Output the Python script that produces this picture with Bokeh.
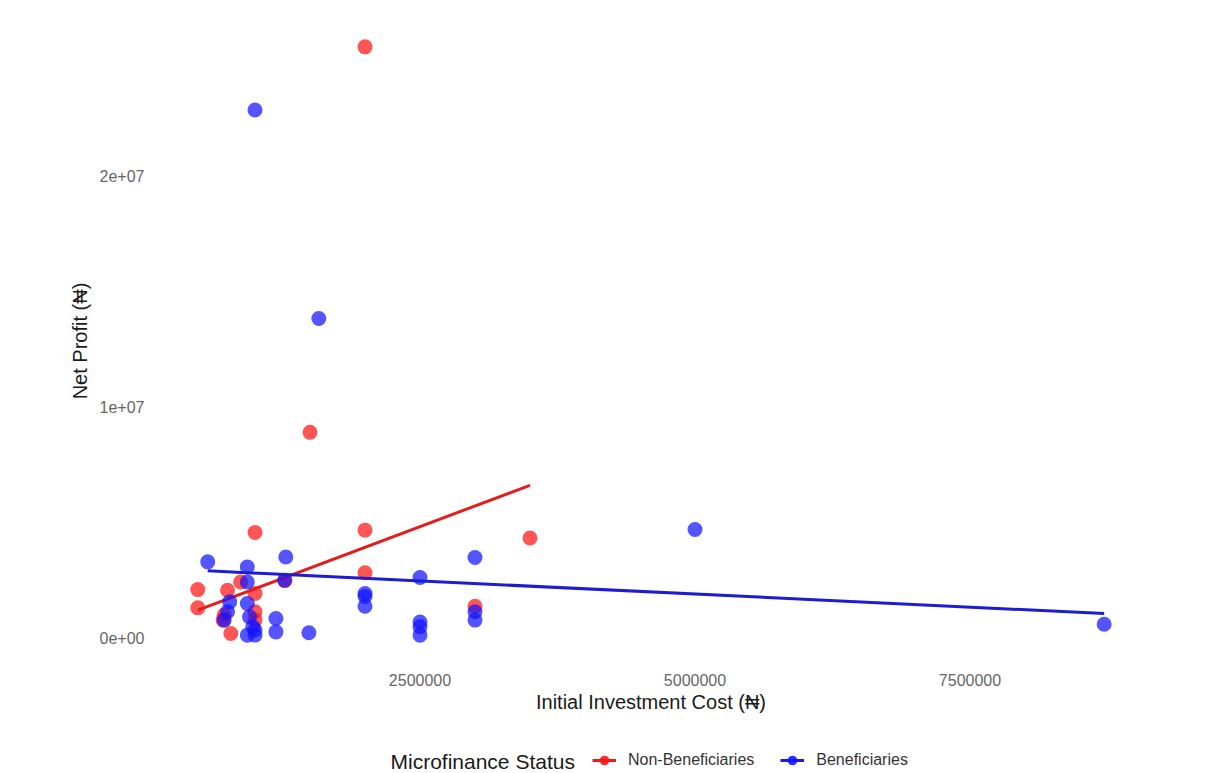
from bokeh.plotting import figure
from bokeh.layouts import column
from bokeh.models import Legend, LegendItem, Label, FixedTicker, Range1d
from bokeh.embed import file_html
from bokeh.resources import INLINE

# ---------------- data ----------------
group_labels = ["Non-Beneficiaries", "Beneficiaries"]
group_colors = ["#ff1414", "#1414ff"]
line_colors = ["#e01e1e", "#1c1cd2"]

# Non-Beneficiaries: initial investment cost vs net profit (Naira)
nb_cost = [2.0e6, 1.5e6, 1.0e6, 2.0e6, 3.5e6, 2.0e6, 0.48e6, 0.48e6, 0.75e6,
           0.87e6, 1.0e6, 3.0e6, 0.71e6, 0.78e6, 1.0e6, 1.0e6, 1.27e6, 0.72e6]
nb_profit = [25.57e6, 8.9e6, 4.57e6, 4.67e6, 4.33e6, 2.83e6, 2.10e6, 1.31e6, 2.07e6,
             2.43e6, 1.93e6, 1.38e6, 0.78e6, 0.20e6, 1.14e6, 0.78e6, 2.5e6, 1.0e6]

# Beneficiaries
b_cost = [1.0e6, 1.58e6, 5.0e6, 8.72e6, 0.57e6, 0.93e6, 0.93e6, 1.28e6, 1.27e6,
          0.77e6, 0.75e6, 0.72e6, 0.93e6, 0.95e6, 0.98e6, 0.93e6, 1.0e6, 1.19e6,
          1.19e6, 1.49e6, 2.0e6, 2.0e6, 2.0e6, 2.5e6, 2.5e6, 2.5e6, 2.5e6,
          3.0e6, 3.0e6, 3.0e6, 1.0e6]
b_profit = [22.84e6, 13.82e6, 4.7e6, 0.6e6, 3.30e6, 3.08e6, 2.43e6, 3.51e6, 2.5e6,
            1.57e6, 1.14e6, 0.78e6, 1.5e6, 0.92e6, 0.49e6, 0.13e6, 0.13e6, 0.85e6,
            0.27e6, 0.23e6, 1.93e6, 1.8e6, 1.38e6, 2.62e6, 0.7e6, 0.49e6, 0.13e6,
            3.49e6, 1.14e6, 0.78e6, 0.35e6]

# linear fits shown on the chart: [intercept, slope]
nb_fit = [0.352e6, 1.788]
b_fit = [3.04e6, -0.2265]

x_ticks = [2500000, 5000000, 7500000]
x_tick_labels = ["2500000", "5000000", "7500000"]
y_ticks = [0, 10000000, 20000000]
y_tick_labels = ["0e+00", "1e+07", "2e+07"]

x_title = "Initial Investment Cost (\u20a6)"
y_title = "Net Profit (\u20a6)"
legend_title = "Microfinance Status"

FONT = "Liberation Sans"
NAN = float("nan")

# ---------------- main figure ----------------
p = figure(width=1207, height=730,
           x_range=Range1d(0.068e6, 9.132e6), y_range=Range1d(-1.14e6, 26.84e6),
           output_backend="svg", toolbar_location=None,
           min_border_left=152, min_border_right=58,
           min_border_top=17, min_border_bottom=66)
p.outline_line_color = None
p.xgrid.visible = False
p.ygrid.visible = False
p.background_fill_color = "white"
p.border_fill_color = "white"

for ax in (p.xaxis[0], p.yaxis[0]):
    ax.axis_line_color = None
    ax.major_tick_line_color = None
    ax.minor_tick_line_color = None
    ax.major_tick_out = 0
    ax.major_tick_in = 0
    ax.minor_tick_out = 0
    ax.major_label_text_font = FONT
    ax.major_label_text_font_size = "16px"
    ax.major_label_text_color = "#666666"
    ax.axis_label_text_font = FONT
    ax.axis_label_text_font_size = "20px"
    ax.axis_label_text_font_style = "normal"
    ax.axis_label_text_color = "#1a1a1a"

p.xaxis.ticker = FixedTicker(ticks=x_ticks)
p.xaxis.major_label_overrides = dict(zip(x_ticks, x_tick_labels))
p.xaxis.axis_label = x_title
p.xaxis.major_label_standoff = 9
p.xaxis.axis_label_standoff = 2

p.yaxis.ticker = FixedTicker(ticks=y_ticks)
p.yaxis.major_label_overrides = dict(zip(y_ticks, y_tick_labels))
p.yaxis.axis_label = y_title
p.yaxis.major_label_standoff = 8
p.yaxis.axis_label_standoff = 6

groups = [(nb_cost, nb_profit, nb_fit), (b_cost, b_profit, b_fit)]
for (xs, ys, fit), col, lcol in zip(groups, group_colors, line_colors):
    p.scatter(xs, ys, size=15, fill_color=col, fill_alpha=0.72, line_color=None)
    x0, x1 = min(xs), max(xs)
    p.line([x0, x1], [fit[0] + fit[1] * x0, fit[0] + fit[1] * x1],
           line_color=lcol, line_width=3)

# ---------------- legend strip (below the main plot) ----------------
# the column aligns this strip's frame with the main frame (left 152, right 1149)
p2 = figure(width=1207, height=43, x_range=Range1d(152, 1149), y_range=Range1d(0, 43),
            output_backend="svg", toolbar_location=None,
            x_axis_type=None, y_axis_type=None,
            min_border_left=152, min_border_right=58, min_border_top=0, min_border_bottom=0)
p2.outline_line_color = None
p2.background_fill_color = "white"
p2.border_fill_color = "white"
p2.xgrid.visible = False
p2.ygrid.visible = False

legend_items = []
for lab, col, lcol in zip(group_labels, group_colors, line_colors):
    ln = p2.line(x=[NAN, NAN], y=[NAN, NAN], line_color=lcol, line_width=3)
    sc = p2.scatter(x=[NAN], y=[NAN], size=15, fill_color=col, fill_alpha=0.9, line_color=None)
    legend_items.append(LegendItem(label=lab, renderers=[ln, sc]))

legend = Legend(items=legend_items, orientation="horizontal", location=(440, 1),
                glyph_width=24, glyph_height=24, label_standoff=12, spacing=26,
                padding=0, margin=0, border_line_color=None, background_fill_alpha=0,
                label_text_font=FONT, label_text_font_size="16px",
                label_text_color="#333333")
p2.add_layout(legend)

p2.add_layout(Label(x=390, y=12, text=legend_title, text_font=FONT, text_font_size="21px",
                    text_baseline="middle", text_color="#1a1a1a"))

open("out.html", "w").write(file_html(column(p, p2), INLINE))
